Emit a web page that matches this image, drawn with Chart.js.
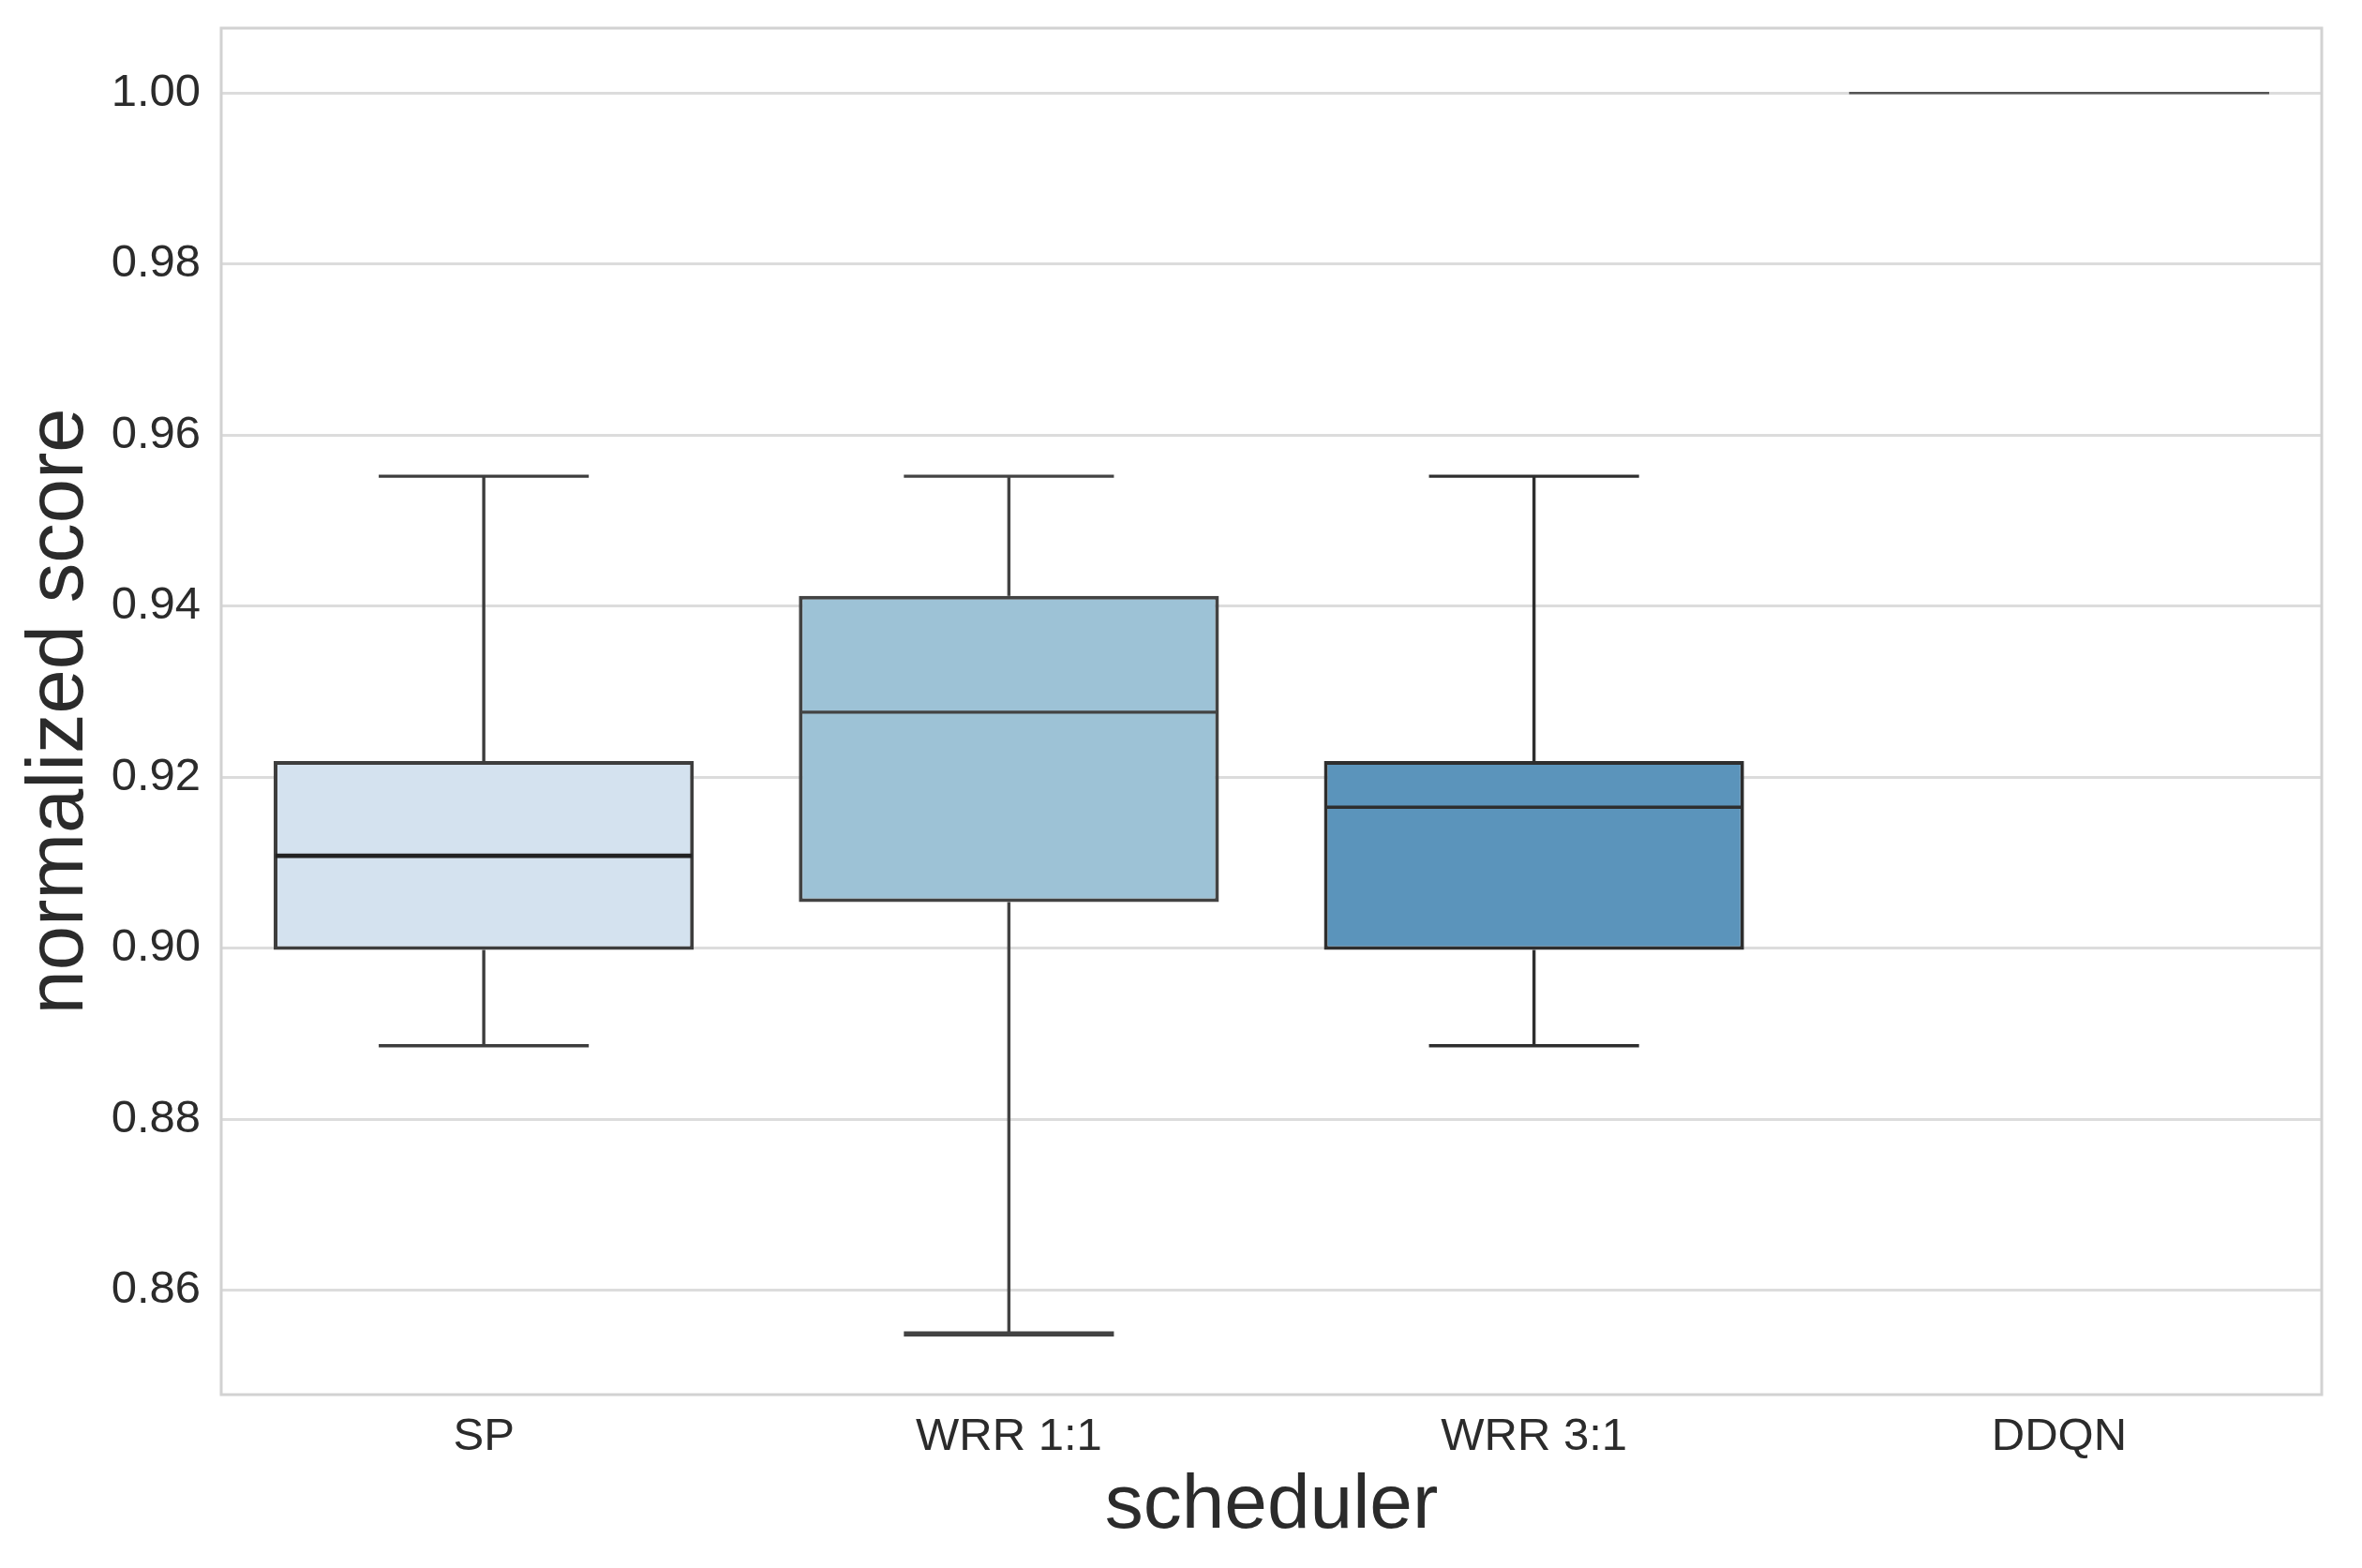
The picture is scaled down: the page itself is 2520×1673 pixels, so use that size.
<!DOCTYPE html>
<html>
<head>
<meta charset="utf-8">
<script src="https://cdn.jsdelivr.net/npm/chart.js@4/dist/chart.umd.min.js"></script>
<style>
  html, body { margin: 0; padding: 0; background: #ffffff; }
  #wrap { width: 2520px; height: 1673px; }
</style>
</head>
<body>
<div id="wrap"><canvas id="c" width="2520" height="1673"></canvas></div>
<script>
// ---- data ----
const categories  = ['SP', 'WRR 1:1', 'WRR 3:1', 'DDQN'];
const whiskerLow  = [0.8886, 0.8549, 0.8886, 1.0];
const q1          = [0.8998, 0.9054, 0.8998, 1.0];
const median      = [0.9108, 0.9276, 0.9165, 1.0];
const q3          = [0.9219, 0.9412, 0.9219, 1.0];
const whiskerHigh = [0.9552, 0.9552, 0.9552, 1.0];
const yTicks      = [0.86, 0.88, 0.90, 0.92, 0.94, 0.96, 0.98, 1.00];
const yMin = 0.8478, yMax = 1.0076;

// ---- styles ----
const boxColors  = ['#d4e2ef', '#9dc2d6', '#5b94bb', '#b9d3e6'];
const lineColors = ['#3d3d3d', '#434343', '#2e2e2e', '#555555'];
const FONT = '"Liberation Sans", Arial, sans-serif';
Chart.defaults.font.family = FONT;
Chart.defaults.color = '#333333';

const boxPlugin = {
  id: 'boxWhiskers',
  afterDatasetsDraw(chart) {
    const ctx = chart.ctx;
    const ys = chart.scales.y;
    const meta = chart.getDatasetMeta(0);
    ctx.save();
    meta.data.forEach((bar, i) => {
      const cx = bar.x;
      const half = bar.width / 2;
      const capHalf = half / 2;
      ctx.strokeStyle = lineColors[i];
      ctx.lineCap = 'butt';
      if (i === 3) {
        ctx.lineWidth = 2.5;
        const y = ys.getPixelForValue(median[i]);
        ctx.beginPath(); ctx.moveTo(cx - half, y); ctx.lineTo(cx + half, y); ctx.stroke();
        return;
      }
      ctx.lineWidth = 3.4;
      const yq1 = ys.getPixelForValue(q1[i]);
      const yq3 = ys.getPixelForValue(q3[i]);
      const ylo = ys.getPixelForValue(whiskerLow[i]);
      const yhi = ys.getPixelForValue(whiskerHigh[i]);
      // upper whisker
      ctx.beginPath(); ctx.moveTo(cx, yq3); ctx.lineTo(cx, yhi); ctx.stroke();
      ctx.beginPath(); ctx.moveTo(cx - capHalf, yhi); ctx.lineTo(cx + capHalf, yhi); ctx.stroke();
      // lower whisker
      ctx.beginPath(); ctx.moveTo(cx, yq1); ctx.lineTo(cx, ylo); ctx.stroke();
      ctx.lineWidth = (i === 1) ? 5.5 : 3.4;
      ctx.beginPath(); ctx.moveTo(cx - capHalf, ylo); ctx.lineTo(cx + capHalf, ylo); ctx.stroke();
      // median
      ctx.lineWidth = (i === 0) ? 4.8 : 3.4;
      ctx.strokeStyle = (i === 0) ? '#222222' : lineColors[i];
      const ym = ys.getPixelForValue(median[i]);
      ctx.beginPath(); ctx.moveTo(cx - half + 2, ym); ctx.lineTo(cx + half - 2, ym); ctx.stroke();
    });
    ctx.restore();
  }
};

const framePlugin = {
  id: 'frame',
  beforeDatasetsDraw(chart) {
    const {ctx, chartArea: a} = chart;
    ctx.save();
    ctx.strokeStyle = '#d2d2d2';
    ctx.lineWidth = 3;
    ctx.strokeRect(a.left, a.top, a.right - a.left, a.bottom - a.top);
    ctx.restore();
  }
};

new Chart(document.getElementById('c'), {
  type: 'bar',
  data: {
    labels: categories,
    datasets: [{
      data: categories.map((c, i) => [q1[i], q3[i]]),
      backgroundColor: boxColors,
      borderColor: lineColors,
      borderWidth: 4,
      borderSkipped: false,
      barPercentage: 0.8,
      categoryPercentage: 1.0
    }]
  },
  options: {
    responsive: false,
    animation: false,
    devicePixelRatio: 1,
    layout: { padding: { left: 0, right: 43, top: 30, bottom: 0 } },
    plugins: { legend: { display: false }, tooltip: { enabled: false } },
    scales: {
      x: {
        offset: true,
        grid: { display: false, drawTicks: false },
        border: { display: false },
        ticks: { font: { size: 49 }, color: '#2b2b2b', padding: 16 },
        title: { display: true, text: 'scheduler', font: { size: 82 }, color: '#2b2b2b', padding: { top: 0, bottom: 16 } },
        afterFit(scale) { scale.height = 185; scale.paddingLeft = 0; scale.paddingRight = 0; }
      },
      y: {
        min: yMin,
        max: yMax,
        afterBuildTicks(scale) { scale.ticks = yTicks.map(v => ({ value: v })); },
        grid: { color: '#dcdcdc', lineWidth: 3, drawTicks: false },
        border: { display: false },
        ticks: {
          font: { size: 49 }, color: '#2b2b2b', padding: 22,
          callback: (v) => Number(v).toFixed(2)
        },
        title: { display: true, text: 'normalized score', font: { size: 85 }, color: '#2b2b2b', padding: { top: 14, bottom: 0 } },
        afterFit(scale) { scale.width = 236; scale.paddingTop = 0; scale.paddingBottom = 0; }
      }
    }
  },
  plugins: [framePlugin, boxPlugin]
});
</script>
</body>
</html>
